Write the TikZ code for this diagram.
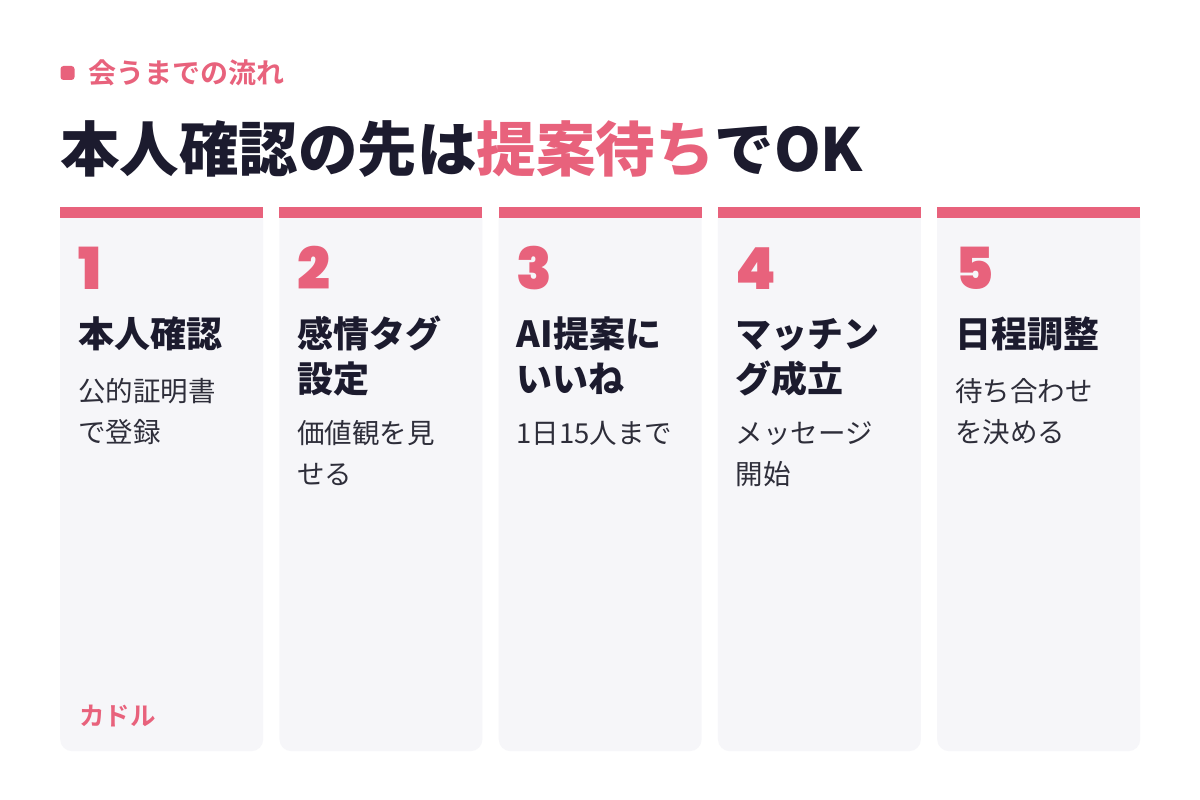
\documentclass[tikz,border=0pt]{standalone}
\usepackage{fontspec}
\usetikzlibrary{positioning}
\newfontfamily\jpreg{Noto Sans CJK JP}
\newfontfamily\jpbold{Noto Sans CJK JP}[UprightFont=* Bold]
\newfontfamily\jpblack{Noto Sans CJK JP}[UprightFont=* Black]
\newfontfamily\numfont{Poppins}[UprightFont=* Black]
\definecolor{accent}{HTML}{E8627C}
\definecolor{ink}{HTML}{1C1B2E}
\definecolor{bodyink}{HTML}{2E2E3A}
\definecolor{cardbg}{HTML}{F6F6F9}

\begin{document}
\begin{tikzpicture}[x=1pt,y=-1pt,inner sep=0pt,
	card/.style={fill=cardbg,rounded corners=12pt,minimum width=203pt,minimum height=544pt,anchor=north west},
	numtxt/.style={anchor=base west,text=accent,font=\numfont\fontsize{58}{58}\selectfont},
	headtxt/.style={anchor=base west,text=ink,font=\jpblack\fontsize{36}{45}\selectfont},
	bodytxt/.style={anchor=base west,text=bodyink,font=\jpreg\fontsize{27.5}{41}\selectfont}]
	\fill[white] (0,0) rectangle (1200,800);
	\useasboundingbox (0,0) rectangle (1200,800);
	% header
	\node[fill=accent,rounded corners=3pt,minimum size=14pt] (mark) at (67.5,73) {};
	\node[right=13.5pt of mark,anchor=west,text=accent,font=\jpbold\fontsize{28}{28}\selectfont] (kicker) {会うまでの流れ};
	\node[anchor=base west,text=ink,font=\jpblack\fontsize{59.5}{60}\selectfont] (title) at (60,171)
		{本人確認の先は{\color{accent}提案待ち}でOK};
	% steps
	\foreach \i/\hd/\bd/\by in {
		1/{\hbox{本人確認}}/{\hbox{公的証明書}\hbox{で登録}}/194,
		2/{\hbox{感情タグ}\hbox{設定}}/{\hbox{価値観を見}\hbox{せる}}/236,
		3/{\hbox{AI提案に}\hbox{いいね}}/{\hbox{1日15人まで}}/236,
		4/{\hbox{マッチン}\hbox{グ成立}}/{\hbox{メッセージ}\hbox{開始}}/236,
		5/{\hbox{日程調整}}/{\hbox{待ち合わせ}\hbox{を決める}}/194} {
		\pgfmathsetmacro{\x}{60+(\i-1)*219.25}
		\node[card] (card\i) at (\x,207) {};
		\fill[accent] (card\i.north west) rectangle ++(203,11);
		\node[numtxt] (num\i) at ([shift={(18,82)}]card\i.north west) {\i};
		\node[headtxt] (head\i) at ([shift={(18,140)}]card\i.north west) {\vtop{\hd}};
		\node[bodytxt] (body\i) at ([shift={(18,\by)}]card\i.north west) {\vtop{\bd}};
	}
	\node[anchor=base west,text=accent,font=\jpbold\fontsize{25.5}{25.5}\selectfont] (brand)
		at ([shift={(19,518)}]card1.north west) {カドル};
\end{tikzpicture}
\end{document}
